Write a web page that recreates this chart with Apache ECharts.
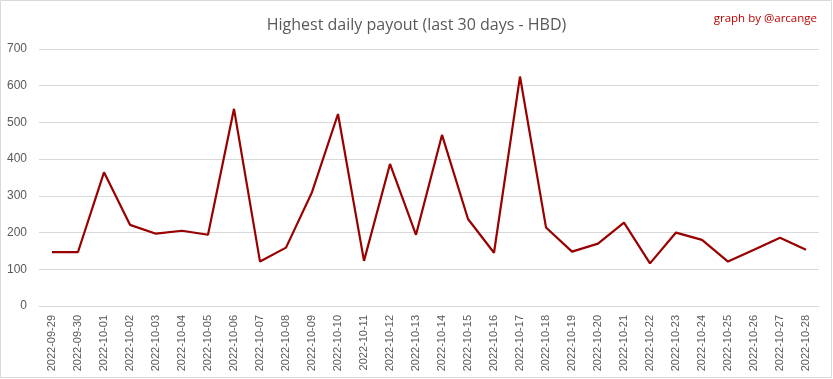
<!DOCTYPE html>
<html><head><meta charset="utf-8">
<style>html,body{margin:0;padding:0;background:#fff}#c{width:833px;height:379px}</style>
<script src="https://cdn.jsdelivr.net/npm/echarts@6/dist/echarts.min.js"></script>
</head><body><div id="c"></div>
<script>
const categories = ["2022-09-29","2022-09-30","2022-10-01","2022-10-02","2022-10-03","2022-10-04","2022-10-05","2022-10-06","2022-10-07","2022-10-08","2022-10-09","2022-10-10","2022-10-11","2022-10-12","2022-10-13","2022-10-14","2022-10-15","2022-10-16","2022-10-17","2022-10-18","2022-10-19","2022-10-20","2022-10-21","2022-10-22","2022-10-23","2022-10-24","2022-10-25","2022-10-26","2022-10-27","2022-10-28"];
const payout = [147,147,364,221,197,205,194,537,121,159,310,523,123,387,194,466,237,145,625,214,148,170,227,116,200,180,121,153,186,153];
const titleText = "Highest daily payout (last 30 days - HBD)";
const creditText = "graph by @arcange";

const chart = echarts.init(document.getElementById('c'), null, {renderer:'canvas'});
chart.setOption({
  animation:false,
  backgroundColor:'#fff',
  title:[{text:titleText,left:'center',top:12,textStyle:{color:'#595959',fontSize:16,fontWeight:'normal',fontFamily:'Open Sans'}},
         {text:creditText,right:11,top:8,textStyle:{color:'#c00000',fontSize:11.5,fontWeight:'normal',fontFamily:'Open Sans'}}],
  graphic:[{type:'rect',shape:{x:0.5,y:0.5,width:831,height:377},style:{fill:'none',stroke:'#d9d9d9',lineWidth:1},silent:true}],
  grid:{left:39,right:14,top:49,bottom:73},
  xAxis:{type:'category',data:categories,boundaryGap:true,
    axisLine:{lineStyle:{color:'#d9d9d9'}},axisTick:{show:false},
    axisLabel:{rotate:90,color:'#595959',fontSize:11,fontFamily:'Liberation Sans',margin:9,interval:0}},
  yAxis:{type:'value',min:0,max:700,interval:100,
    axisLine:{show:false},axisTick:{show:false},
    splitLine:{lineStyle:{color:'#d9d9d9'}},
    axisLabel:{color:'#595959',fontSize:12,fontFamily:'Liberation Sans',margin:12}},
  series:[{type:'line',data:payout,symbol:'none',lineStyle:{color:'#990000',width:2.2},itemStyle:{color:'#990000'}}]
});
</script></body></html>
